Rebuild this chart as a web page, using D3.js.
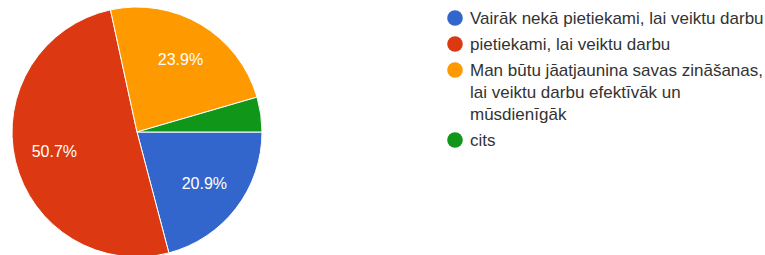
<!DOCTYPE html>
<html>
<head>
<meta charset="utf-8">
<script src="https://cdn.jsdelivr.net/npm/d3@7"></script>
<style>
  body { margin: 0; background: #fff; }
  svg { display: block; font-family: "Liberation Sans", Arial, sans-serif; }
</style>
</head>
<body>
<div class="pie-chart"></div>
<script>
var categories = [
  "Vairāk nekā pietiekami, lai veiktu darbu",
  "pietiekami, lai veiktu darbu",
  "Man būtu jāatjaunina savas zināšanas, lai veiktu darbu efektīvāk un mūsdienīgāk",
  "cits"
];
var values = [20.9, 50.7, 23.9, 4.5];
var colors = ["#3366cc", "#dc3912", "#ff9900", "#109618"];

var width = 765, height = 255;
var svg = d3.select(".pie-chart").append("svg")
  .attr("width", width).attr("height", height);

var radius = 125;
var pie = d3.pie().value(function (d) { return d; }).sort(null)
  .startAngle(Math.PI / 2).endAngle(Math.PI / 2 + 2 * Math.PI);
var arc = d3.arc().innerRadius(0).outerRadius(radius);
var labelArc = d3.arc().innerRadius(85).outerRadius(85);

var g = svg.append("g").attr("transform", "translate(137,132)");

g.selectAll("path")
  .data(pie(values))
  .enter().append("path")
  .attr("d", arc)
  .attr("fill", function (d, i) { return colors[i]; })
  .attr("stroke", "#fff")
  .attr("stroke-width", 1);

// percent labels (skip the thin slice)
g.selectAll("text.pct")
  .data(pie(values))
  .enter().filter(function (d) { return d.data >= 5; })
  .append("text")
  .attr("class", "pct")
  .attr("transform", function (d) { return "translate(" + labelArc.centroid(d) + ")"; })
  .attr("text-anchor", "middle")
  .attr("dy", "0.35em")
  .attr("fill", "#fff")
  .style("font-size", "16px")
  .text(function (d) { return d.data.toFixed(1) + "%"; });

// legend
var legend = svg.append("g").attr("transform", "translate(455,0)");
var y = 18;
var maxW = 300;
var lineH = 22;
categories.forEach(function (name, i) {
  var item = legend.append("g");
  item.append("circle")
    .attr("cx", 0).attr("cy", y).attr("r", 7.8)
    .attr("fill", colors[i]);
  var text = item.append("text")
    .attr("fill", "#333")
    .style("font-size", "17px");
  var words = name.split(" ");
  var line = [];
  var lines = 0;
  var tspan = text.append("tspan").attr("x", 15).attr("y", y).attr("dy", "0.35em");
  words.forEach(function (w) {
    line.push(w);
    tspan.text(line.join(" "));
    if (tspan.node().getComputedTextLength() > maxW && line.length > 1) {
      line.pop();
      tspan.text(line.join(" "));
      line = [w];
      lines++;
      tspan = text.append("tspan").attr("x", 15).attr("y", y + lines * lineH)
        .attr("dy", "0.35em").text(w);
    }
  });
  y += lines * lineH + 26;
});
</script>
</body>
</html>
